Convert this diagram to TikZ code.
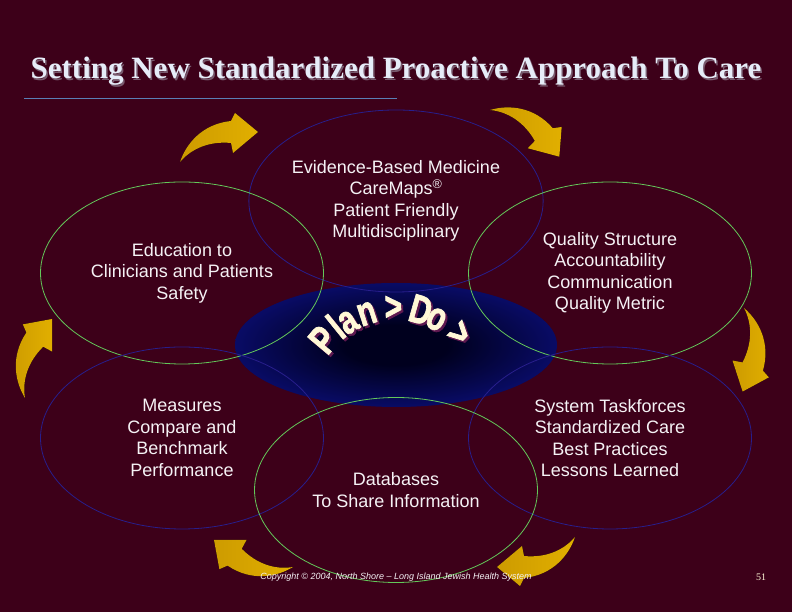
\documentclass[tikz,border=0pt]{standalone}
\usepackage{fontspec}
\setmainfont{Liberation Sans}
\newfontfamily\titlefont{Liberation Serif}
\newfontfamily\planfont[FakeBold=2]{Liberation Sans Bold}
\usetikzlibrary{shapes.geometric}

\definecolor{slidebg}{RGB}{61,0,25}
\definecolor{ringgreen}{RGB}{100,200,90}
\definecolor{ringblue}{RGB}{40,30,140}
\definecolor{txtwhite}{RGB}{245,242,245}
\definecolor{titlecol}{RGB}{230,236,248}
\definecolor{titleshade}{RGB}{120,90,110}
\definecolor{rulecol}{RGB}{90,127,181}
\definecolor{golddark}{RGB}{205,155,0}
\definecolor{goldlight}{RGB}{255,226,20}
\definecolor{goldmid}{RGB}{225,175,0}
\definecolor{plancream}{RGB}{255,248,215}
\definecolor{planshadow}{RGB}{95,25,80}
\definecolor{coredark}{RGB}{0,0,30}
\definecolor{coreblue}{RGB}{16,20,156}
\pgfdeclareradialshading{coreshade}{\pgfpoint{0bp}{0bp}}{color(0bp)=(coredark); color(8bp)=(coredark); color(38bp)=(coreblue); color(50bp)=(coreblue)}

\tikzset{
	ringnode/.style={ellipse, line width=0.8pt, minimum width=283pt, minimum height=182pt, inner sep=0pt, align=center, text=txtwhite, font=\fontsize{18}{21.5}\selectfont},
	greenring/.style={ringnode, draw=ringgreen},
	bluering/.style={ringnode, draw=ringblue},
	planletter/.style={anchor=base, font=\planfont\fontsize{40}{40}\selectfont},
	goldarrow/.pic={
		\fill[left color=golddark, middle color=goldlight, right color=goldmid]
			(0,0) .. controls (6,18) and (22,38) .. (51,41) -- (55,49) -- (78,30)
			-- (53,9) -- (51,19) .. controls (30,21) and (12,14) .. (0,0) -- cycle;
	}
}

\begin{document}
\begin{tikzpicture}[x=1pt,y=1pt]
	\fill[slidebg] (0,0) rectangle (792,612);
	\useasboundingbox (0,0) rectangle (792,612);

	\node[anchor=base, font=\titlefont\bfseries\fontsize{31}{31}\selectfont, text=titleshade] (titleshadow) at (397.5,531.5) {Setting New Standardized Proactive Approach To Care};
	\node[anchor=base, font=\titlefont\bfseries\fontsize{31}{31}\selectfont, text=titlecol] (title) at (396,533) {Setting New Standardized Proactive Approach To Care};
	\draw[rulecol, line width=1pt] (24,513) -- (397,513);

	% blue core
	\shade[shading=coreshade] (396,267) ellipse [x radius=161pt, y radius=62pt];

	\node[bluering] (evidence) at (396,411) {Evidence-Based Medicine\\CareMaps\textsuperscript{®}\\Patient Friendly\\Multidisciplinary};
	\node[greenring] (education) at (182,339) {Education to\\Clinicians and Patients\\Safety};
	\node[greenring] (quality) at (610,339) {Quality Structure\\Accountability\\Communication\\Quality Metric};
	\node[bluering] (measures) at (182,174) {Measures\\Compare and\\Benchmark\\Performance};
	\node[bluering] (system) at (610,174) {System Taskforces\\Standardized Care\\Best Practices\\Lessons Learned};
	\node[greenring, minimum height=185pt] (databases) at (396,122) {Databases\\To Share Information};

	% gold arrows
	\foreach \x/\y/\r in {180/450/0, 490/502/-55, 744/304/-112, 575/75/180, 293/45/140, 25/214/50} {
		\pic[rotate=\r] at (\x,\y) {goldarrow};
	}

	% Plan > Do >
	\coordinate (arc) at (395,212);
	\foreach \a/\c [count=\i] in {140/P,129/l,121/a,108/n,91/>,74/D,63/o,46/>} {
		\node[planletter, text=planshadow, rotate=\a-90] (shadow\i) at ([shift={(\a:80)}, xshift=2pt, yshift=-2pt]arc) {\scalebox{0.75}[1]{\c}};
		\node[planletter, text=plancream, rotate=\a-90] (letter\i) at ([shift={(\a:80)}]arc) {\scalebox{0.75}[1]{\c}};
	}

	\node[anchor=base, font=\itshape\fontsize{9}{9}\selectfont, text=txtwhite] (copyright) at (396,32) {Copyright © 2004, North Shore – Long Island Jewish Health System};
	\node[anchor=base, font=\titlefont\fontsize{10}{10}\selectfont, text=plancream] (pagenum) at (761,31) {51};
\end{tikzpicture}
\end{document}
